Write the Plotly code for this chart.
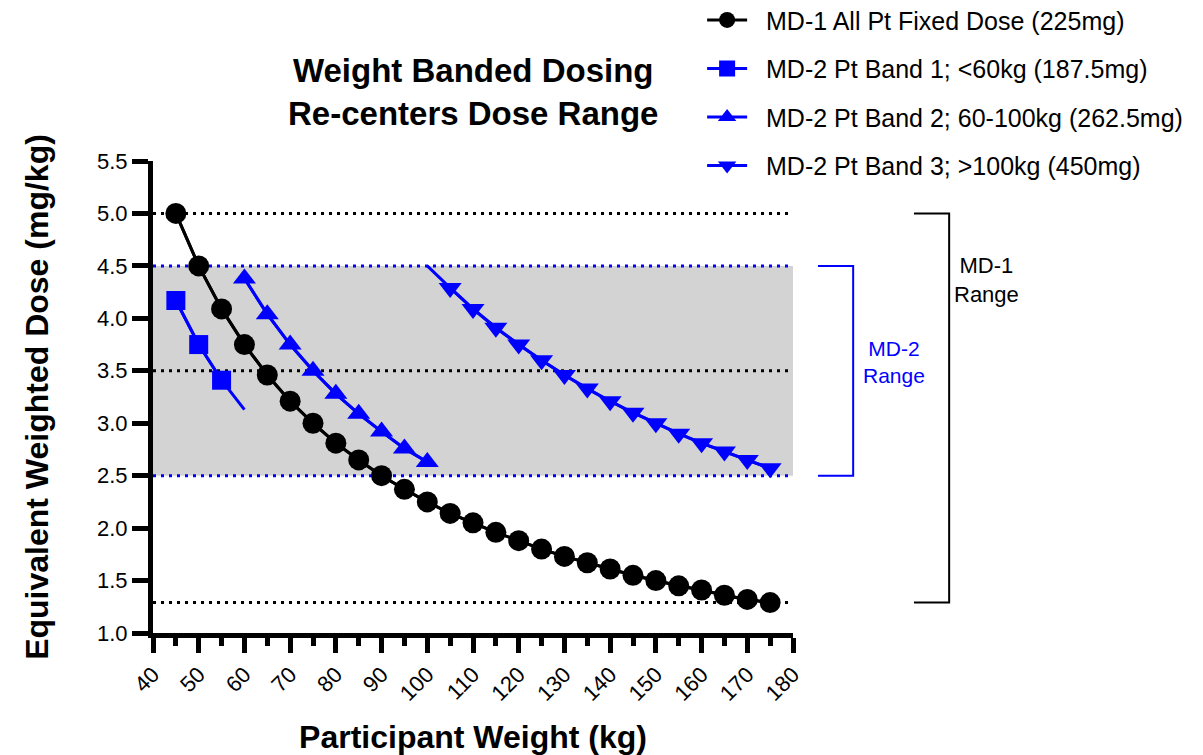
import plotly.graph_objects as go

# ---- data ----
md1_weight = [45, 50, 55, 60, 65, 70, 75, 80, 85, 90, 95, 100, 105, 110, 115, 120,
              125, 130, 135, 140, 145, 150, 155, 160, 165, 170, 175]
md1_dose = [5.00, 4.50, 4.09, 3.75, 3.46, 3.21, 3.00, 2.81, 2.65, 2.50, 2.37, 2.25,
            2.14, 2.05, 1.96, 1.88, 1.80, 1.73, 1.67, 1.61, 1.55, 1.50, 1.45, 1.41,
            1.36, 1.32, 1.29]

band1_weight = [45, 50, 55, 60]
band1_dose = [4.17, 3.75, 3.41, 3.13]
band1_marked = [True, True, True, False]

band2_weight = [60, 65, 70, 75, 80, 85, 90, 95, 100]
band2_dose = [4.38, 4.04, 3.75, 3.50, 3.28, 3.09, 2.92, 2.76, 2.63]

band3_weight = [100, 105, 110, 115, 120, 125, 130, 135, 140, 145, 150, 155, 160, 165, 170, 175]
band3_dose = [4.50, 4.29, 4.09, 3.91, 3.75, 3.60, 3.46, 3.33, 3.21, 3.10, 3.00, 2.90,
              2.81, 2.73, 2.65, 2.57]
band3_marked = [False] + [True] * 15

series_names = ["MD-1 All Pt Fixed Dose (225mg)",
                "MD-2 Pt Band 1; <60kg (187.5mg)",
                "MD-2 Pt Band 2; 60-100kg (262.5mg)",
                "MD-2 Pt Band 3; >100kg (450mg)"]

md1_range = [5.0, 1.29]
md2_range = [4.5, 2.5]
black_refs = [5.0, 3.5, 1.29]
blue_refs = [4.5, 2.5]

x_range = [40, 180]
y_range = [1.0, 5.5]

# ---- styling ----
FONT = "Liberation Sans, Arial, sans-serif"
BLUE = "#0000ff"
BLACK = "#000000"
PAD = "\u00a0\u00a0"  # gap between legend symbol and text

fig = go.Figure()


def add_series(xs, ys, marked, name, color, symbol, size, group):
    # full connecting line (no legend entry)
    fig.add_trace(go.Scatter(
        x=xs, y=ys, mode="lines", line=dict(color=color, width=3),
        showlegend=False, hoverinfo="skip", legendgroup=group, cliponaxis=False))
    mx = [x for x, m in zip(xs, marked) if m]
    my = [y for y, m in zip(ys, marked) if m]
    fig.add_trace(go.Scatter(
        x=mx, y=my, mode="lines+markers", name=PAD + name,
        line=dict(color=color, width=3),
        marker=dict(symbol=symbol, size=size, color=color),
        legendgroup=group, cliponaxis=False))


add_series(md1_weight, md1_dose, [True] * len(md1_weight), series_names[0],
           BLACK, "circle", 21, "a")
add_series(band1_weight, band1_dose, band1_marked, series_names[1],
           BLUE, "square", 19, "b")
add_series(band2_weight, band2_dose, [True] * len(band2_weight), series_names[2],
           BLUE, "triangle-up", 20, "c")
add_series(band3_weight, band3_dose, band3_marked, series_names[3],
           BLUE, "triangle-down", 20, "d")

shapes = []
# grey band for MD-2 range
shapes.append(dict(type="rect", xref="x", yref="y", x0=x_range[0], x1=x_range[1],
                   y0=md2_range[1], y1=md2_range[0], fillcolor="#d3d3d3",
                   line=dict(width=0), layer="below"))
for v in black_refs:
    shapes.append(dict(type="line", xref="x", yref="y", x0=x_range[0], x1=x_range[1],
                       y0=v, y1=v, line=dict(color=BLACK, width=3, dash="3px,5px"),
                       layer="below"))
for v in blue_refs:
    shapes.append(dict(type="line", xref="x", yref="y", x0=x_range[0], x1=x_range[1],
                       y0=v, y1=v, line=dict(color=BLUE, width=3, dash="3px,5px"),
                       layer="below"))


def ypaper(v):
    return (v - y_range[0]) / (y_range[1] - y_range[0])


# brackets (outside plot area, paper coords)
b2x0, b2x1 = 1.039, 1.094
shapes.append(dict(type="path", xref="paper", yref="paper",
                   path=f"M {b2x0},{ypaper(md2_range[0])} L {b2x1},{ypaper(md2_range[0])} "
                        f"L {b2x1},{ypaper(md2_range[1])} L {b2x0},{ypaper(md2_range[1])}",
                   line=dict(color=BLUE, width=2)))
b1x0, b1x1 = 1.189, 1.244
shapes.append(dict(type="path", xref="paper", yref="paper",
                   path=f"M {b1x0},{ypaper(md1_range[0])} L {b1x1},{ypaper(md1_range[0])} "
                        f"L {b1x1},{ypaper(md1_range[1])} L {b1x0},{ypaper(md1_range[1])}",
                   line=dict(color=BLACK, width=2)))

annotations = [
    dict(text="<b>Weight Banded Dosing<br>Re-centers Dose Range</b>", xref="paper", yref="paper",
         x=0.5, y=1.146, showarrow=False, font=dict(size=33, color=BLACK, family=FONT),
         xanchor="center", yanchor="middle"),
    dict(text="MD-2<br>Range", xref="paper", yref="paper", x=1.158, y=0.574,
         xanchor="center", yanchor="middle",
         showarrow=False, font=dict(size=21, color=BLUE, family=FONT)),
    dict(text="MD-1<br>Range", xref="paper", yref="paper", x=1.303, y=0.748,
         xanchor="center", yanchor="middle",
         showarrow=False, font=dict(size=22, color=BLACK, family=FONT)),
]

# page body has an 8px margin: shrink the figure so the plot lands where the reference has it
fig.update_layout(
    width=1195, height=747,
    margin=dict(l=145, r=410, t=153, b=122, autoexpand=False),
    plot_bgcolor="white", paper_bgcolor="white",
    font=dict(family=FONT, color=BLACK, size=20),
    shapes=shapes, annotations=annotations,
    showlegend=True,
    legend=dict(x=0.858, y=1.347, xanchor="left", yanchor="top",
                font=dict(size=25, family=FONT, color=BLACK),
                traceorder="grouped", tracegroupgap=13, itemwidth=40,
                bgcolor="rgba(0,0,0,0)"),
    xaxis=dict(range=x_range, dtick=10, tick0=40, showgrid=False, zeroline=False,
               showline=True, linecolor=BLACK, linewidth=5, automargin=False,
               ticks="outside", ticklen=15, tickwidth=5, tickcolor=BLACK,
               tickangle=-45, tickfont=dict(size=22, family=FONT),
               minor=dict(dtick=5, tick0=40, ticks="outside", ticklen=8, tickwidth=5,
                          tickcolor=BLACK),
               title=dict(text="<b>Participant Weight (kg)</b>", standoff=22,
                          font=dict(size=32, family=FONT))),
    yaxis=dict(range=y_range, dtick=0.5, tick0=1.0, tickformat=".1f",
               showgrid=False, zeroline=False, automargin=False,
               showline=True, linecolor=BLACK, linewidth=5,
               ticks="outside", ticklen=16, tickwidth=5, tickcolor=BLACK,
               tickfont=dict(size=22, family=FONT),
               title=dict(text="<b>Equivalent Weighted Dose (mg/kg)</b>", standoff=40,
                          font=dict(size=32, family=FONT))),
)

fig.write_html("out.html")
